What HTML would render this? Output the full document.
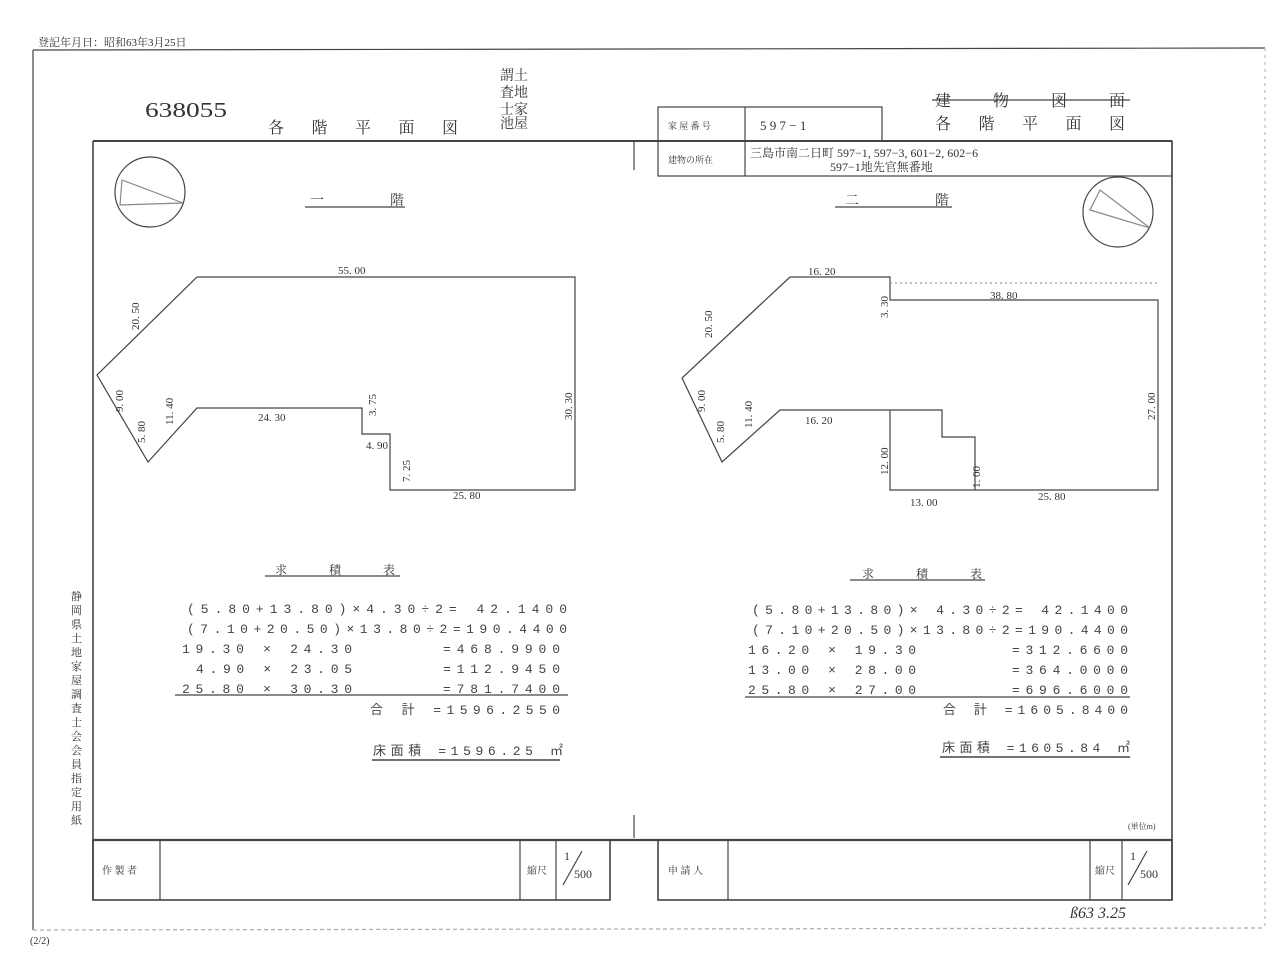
<!DOCTYPE html>
<html><head><meta charset="utf-8"><style>
html,body{margin:0;padding:0;background:#fff}
svg{display:block}
text{font-family:"Liberation Serif","Noto Serif CJK SC","Noto Sans CJK JP",serif;fill:#333}
.m{font-family:"Liberation Mono","Noto Sans CJK JP",monospace;font-size:13px;fill:#444}
.s{font-size:11px}
</style></head><body>
<svg width="1280" height="960" viewBox="0 0 1280 960" xmlns="http://www.w3.org/2000/svg">
<g stroke="#444" fill="none" stroke-width="1.2">
<!-- outer page -->
<line x1="33" y1="50" x2="1265" y2="48"/>
<line x1="33" y1="50" x2="33" y2="930"/>
<line x1="1265" y1="48" x2="1265" y2="930" stroke="#bbb" stroke-dasharray="3 4"/>
<line x1="33" y1="930" x2="1265" y2="928" stroke="#aaa" stroke-dasharray="4 3"/>
<!-- inner frame -->
<line x1="93" y1="141" x2="1172" y2="141" stroke-width="2"/>
<line x1="93" y1="141" x2="93" y2="900" stroke-width="1.6"/>
<line x1="1172" y1="141" x2="1172" y2="900" stroke-width="1.6"/>
<line x1="93" y1="840" x2="1172" y2="840" stroke-width="2.2"/>
<line x1="634" y1="141" x2="634" y2="170"/>
<line x1="634" y1="815" x2="634" y2="838"/>
<!-- header box -->
<rect x="658" y="107" width="224" height="34"/>
<rect x="658" y="141" width="514" height="35"/>
<line x1="745" y1="107" x2="745" y2="176"/>
<!-- bottom tables -->
<rect x="93" y="840" width="517" height="60" stroke-width="1.6"/>
<line x1="160" y1="840" x2="160" y2="900"/>
<line x1="520" y1="840" x2="520" y2="900"/>
<line x1="556" y1="840" x2="556" y2="900"/>
<rect x="658" y="840" width="514" height="60" stroke-width="1.6"/>
<line x1="728" y1="840" x2="728" y2="900"/>
<line x1="1090" y1="840" x2="1090" y2="900"/>
<line x1="1122" y1="840" x2="1122" y2="900"/>
<line x1="563" y1="885" x2="582" y2="851"/>
<line x1="1128" y1="885" x2="1147" y2="851"/>
<!-- compasses -->
<circle cx="150" cy="192" r="35"/>
<circle cx="1118" cy="212" r="35"/>
<path d="M122 180 L183 203 L120 205 Z" stroke="#888"/>
<path d="M1090 210 L1150 228 L1100 190 Z" stroke="#888"/>
<!-- floor 1 -->
<path d="M197 277 L575 277 L575 490 L390 490 L390 434 L362 434 L362 408 L197 408 L148 462 L97 375 Z"/>
<!-- floor 2 -->
<path d="M790 277 L890 277 L890 300 L1158 300 L1158 490 L975 490 L975 437 L942 437 L942 410 L890 410 L780 410 L722 462 L682 378 Z"/>
<path d="M890 283 L1158 283" stroke="#999" stroke-dasharray="2 3"/>
<path d="M890 410 L890 490 L975 490"/>
<!-- underlines -->
<line x1="305" y1="207" x2="405" y2="207"/>
<line x1="835" y1="207" x2="952" y2="207"/>
<line x1="265" y1="576" x2="400" y2="576"/>
<line x1="850" y1="580" x2="985" y2="580"/>
<line x1="175" y1="695" x2="568" y2="695"/>
<line x1="745" y1="697" x2="1130" y2="697"/>
<line x1="372" y1="760" x2="560" y2="760" stroke-width="1.6"/>
<line x1="940" y1="757" x2="1130" y2="757" stroke-width="1.6"/>
<line x1="932" y1="100" x2="1130" y2="100"/>
</g>
<text x="38" y="46" class="s" font-size="10">登記年月日：昭和63年3月25日</text>
<text x="145" y="117" font-size="21" textLength="82" lengthAdjust="spacingAndGlyphs">638055</text>
<text x="268" y="133" font-size="16" textLength="190" lengthAdjust="spacing">各 階 平 面 図</text>
<text x="500" y="80" font-size="14" fill="#666">謂土</text>
<text x="500" y="97" font-size="14" fill="#666">査地</text>
<text x="500" y="114" font-size="14" fill="#666">士家</text>
<text x="500" y="128" font-size="14" fill="#666">池屋</text>
<text x="668" y="129" font-size="9">家 屋 番 号</text>
<text x="760" y="130" font-size="13">5 9 7 − 1</text>
<text x="668" y="163" font-size="9">建物の所在</text>
<text x="750" y="157" font-size="12">三島市南二日町 597−1, 597−3, 601−2, 602−6</text>
<text x="830" y="171" font-size="12">597−1地先官無番地</text>
<text x="935" y="106" font-size="16" textLength="190" lengthAdjust="spacing" fill="#555">建 物 図 面</text>
<text x="935" y="129" font-size="16" textLength="190" lengthAdjust="spacing">各 階 平 面 図</text>
<text x="310" y="205" font-size="14">一</text><text x="390" y="205" font-size="14">階</text>
<text x="845" y="205" font-size="14">二</text><text x="935" y="205" font-size="14">階</text>
<!-- dims floor 1 -->
<g font-size="11">
<text x="338" y="274">55. 00</text>
<text x="258" y="421">24. 30</text>
<text x="453" y="499">25. 80</text>
<text x="366" y="449">4. 90</text>
<text transform="translate(139,330) rotate(-90)">20. 50</text>
<text transform="translate(123,412) rotate(-90)">9. 00</text>
<text transform="translate(145,443) rotate(-90)">5. 80</text>
<text transform="translate(173,425) rotate(-90)">11. 40</text>
<text transform="translate(376,416) rotate(-90)">3. 75</text>
<text transform="translate(410,482) rotate(-90)">7. 25</text>
<text transform="translate(572,420) rotate(-90)">30. 30</text>
<!-- floor 2 -->
<text x="808" y="275">16. 20</text>
<text x="990" y="299">38. 80</text>
<text x="805" y="424">16. 20</text>
<text x="910" y="506">13. 00</text>
<text x="1038" y="500">25. 80</text>
<text transform="translate(712,338) rotate(-90)">20. 50</text>
<text transform="translate(705,412) rotate(-90)">9. 00</text>
<text transform="translate(724,443) rotate(-90)">5. 80</text>
<text transform="translate(752,428) rotate(-90)">11. 40</text>
<text transform="translate(888,318) rotate(-90)">3. 30</text>
<text transform="translate(888,475) rotate(-90)">12. 00</text>
<text transform="translate(980,488) rotate(-90)">1. 00</text>
<text transform="translate(1155,420) rotate(-90)">27. 00</text>
</g>
<text x="275" y="574" font-size="12" textLength="120" lengthAdjust="spacing">求 積 表</text>
<text x="862" y="578" font-size="12" textLength="120" lengthAdjust="spacing">求 積 表</text>
<!-- calc left -->
<text class="m" x="187" y="613" textLength="380" lengthAdjust="spacing">(5.80+13.80)×4.30÷2=  42.1400</text>
<text class="m" x="187" y="633" textLength="380" lengthAdjust="spacing">(7.10+20.50)×13.80÷2=190.4400</text>
<text class="m" x="182" y="653" textLength="170" lengthAdjust="spacing">19.30 × 24.30</text>
<text class="m" x="443" y="653" textLength="117" lengthAdjust="spacing">=468.9900</text>
<text class="m" x="196" y="673" textLength="156" lengthAdjust="spacing">4.90 × 23.05</text>
<text class="m" x="443" y="673" textLength="117" lengthAdjust="spacing">=112.9450</text>
<text class="m" x="182" y="693" textLength="170" lengthAdjust="spacing">25.80 × 30.30</text>
<text class="m" x="443" y="693" textLength="117" lengthAdjust="spacing">=781.7400</text>
<text class="m" x="370" y="714" textLength="190" lengthAdjust="spacing">合 計 =1596.2550</text>
<text class="m" x="373" y="755" textLength="190" lengthAdjust="spacing">床面積 =1596.25 ㎡</text>
<!-- calc right -->
<text class="m" x="752" y="614" textLength="376" lengthAdjust="spacing">(5.80+13.80)× 4.30÷2= 42.1400</text>
<text class="m" x="752" y="634" textLength="376" lengthAdjust="spacing">(7.10+20.50)×13.80÷2=190.4400</text>
<text class="m" x="748" y="654" textLength="168" lengthAdjust="spacing">16.20 × 19.30</text>
<text class="m" x="1012" y="654" textLength="116" lengthAdjust="spacing">=312.6600</text>
<text class="m" x="748" y="674" textLength="168" lengthAdjust="spacing">13.00 × 28.00</text>
<text class="m" x="1012" y="674" textLength="116" lengthAdjust="spacing">=364.0000</text>
<text class="m" x="748" y="694" textLength="168" lengthAdjust="spacing">25.80 × 27.00</text>
<text class="m" x="1012" y="694" textLength="116" lengthAdjust="spacing">=696.6000</text>
<text class="m" x="943" y="714" textLength="185" lengthAdjust="spacing">合 計 =1605.8400</text>
<text class="m" x="942" y="752" textLength="188" lengthAdjust="spacing">床面積 =1605.84 ㎡</text>
<!-- vertical side text -->
<g font-size="11">
<text x="71" y="600">静</text><text x="71" y="614">岡</text><text x="71" y="628">県</text><text x="71" y="642">土</text><text x="71" y="656">地</text><text x="71" y="670">家</text><text x="71" y="684">屋</text><text x="71" y="698">調</text><text x="71" y="712">査</text><text x="71" y="726">士</text><text x="71" y="740">会</text><text x="71" y="754">会</text><text x="71" y="768">員</text><text x="71" y="782">指</text><text x="71" y="796">定</text><text x="71" y="810">用</text><text x="71" y="824">紙</text>
</g>
<text x="102" y="874" font-size="10">作 製 者</text>
<text x="527" y="874" font-size="10">縮尺</text>
<text x="564" y="860" font-size="12">1</text><text x="574" y="878" font-size="12">500</text>
<text x="668" y="874" font-size="10">申 請 人</text>
<text x="1095" y="874" font-size="10">縮尺</text>
<text x="1130" y="860" font-size="12">1</text><text x="1140" y="878" font-size="12">500</text>
<text x="1128" y="829" font-size="8">(単位m)</text>
<text x="1070" y="918" font-size="16" font-style="italic" fill="#555">ß63 3.25</text>
<text x="30" y="944" font-size="10">(2/2)</text>
</svg>
</body></html>
